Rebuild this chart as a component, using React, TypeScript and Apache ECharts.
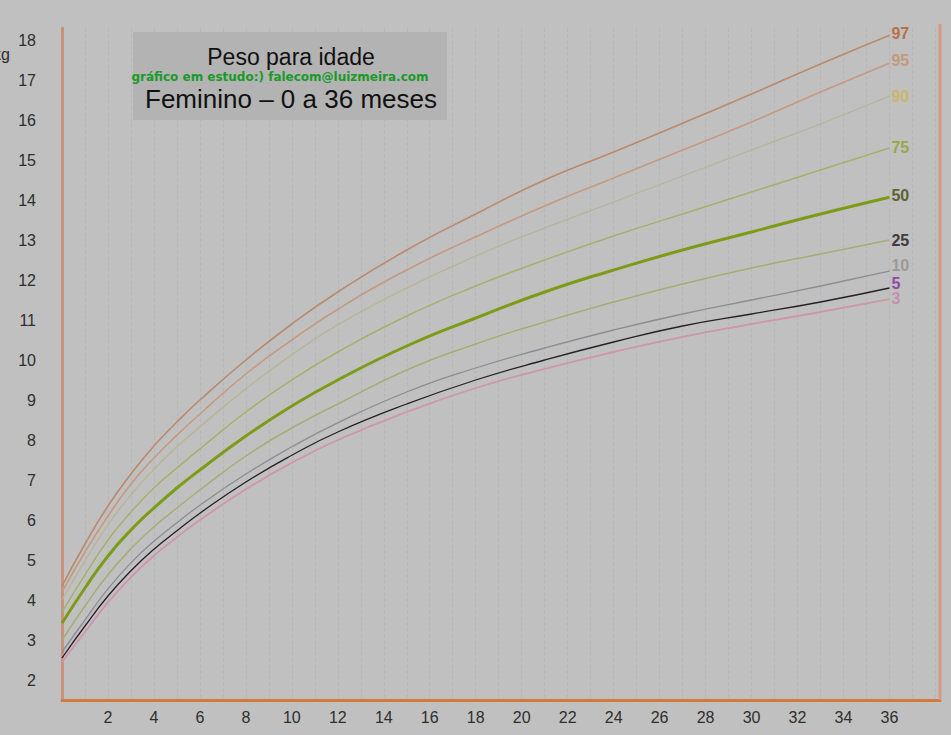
import React, { useEffect, useRef } from "react";
import * as echarts from "echarts";

const months = [0, 1, 2, 3, 4, 5, 6, 8, 10, 12, 15, 18, 21, 24, 27, 30, 33, 36];

const p97 = [4.35, 5.4, 6.35, 7.15, 7.85, 8.45, 9.0, 10.0, 10.9, 11.7, 12.75, 13.65, 14.5, 15.2, 15.92, 16.65, 17.4, 18.12];
const p95 = [4.2, 5.2, 6.1, 6.9, 7.55, 8.12, 8.65, 9.65, 10.5, 11.27, 12.25, 13.08, 13.85, 14.55, 15.25, 15.95, 16.7, 17.42];
const p90 = [4.0, 4.98, 5.88, 6.63, 7.27, 7.83, 8.33, 9.28, 10.13, 10.88, 11.8, 12.6, 13.3, 13.95, 14.6, 15.25, 15.9, 16.6];
const p75 = [3.7, 4.63, 5.5, 6.2, 6.8, 7.3, 7.78, 8.7, 9.5, 10.2, 11.1, 11.85, 12.5, 13.1, 13.65, 14.2, 14.75, 15.3];
const p50 = [3.42, 4.3, 5.1, 5.75, 6.3, 6.8, 7.25, 8.1, 8.85, 9.5, 10.35, 11.05, 11.7, 12.25, 12.75, 13.2, 13.65, 14.07];
const p25 = [3.0, 3.85, 4.63, 5.28, 5.83, 6.3, 6.75, 7.6, 8.3, 8.9, 9.75, 10.4, 10.95, 11.45, 11.9, 12.3, 12.65, 13.0];
const p10 = [2.7, 3.5, 4.28, 4.93, 5.47, 5.93, 6.37, 7.15, 7.83, 8.43, 9.2, 9.8, 10.3, 10.75, 11.15, 11.5, 11.85, 12.22];
const p5 = [2.55, 3.35, 4.1, 4.73, 5.27, 5.73, 6.17, 6.95, 7.62, 8.2, 8.9, 9.5, 10.0, 10.45, 10.85, 11.15, 11.45, 11.8];
const p3 = [2.45, 3.2, 3.94, 4.57, 5.11, 5.57, 6.0, 6.77, 7.43, 8.0, 8.7, 9.3, 9.78, 10.2, 10.58, 10.9, 11.2, 11.52];

const percentileNames = ["97", "95", "90", "75", "50", "25", "10", "5", "3"];
const percentileValues = [p97, p95, p90, p75, p50, p25, p10, p5, p3];

const titleLine1 = "Peso para idade";
const titleLine2 = "Feminino – 0 a 36 meses";
const watermark = "gráfico em estudo:) falecom@luizmeira.com";
const unitLabel = "kg";

const FONT = "Liberation Sans, Arial, sans-serif";

const styles: Record<string, { line: string; label: string; width: number; dy: number }> = {
  "97": { line: "#b98a6c", label: "#b8704c", width: 1.6, dy: -2 },
  "95": { line: "#c49a80", label: "#c49a7c", width: 1.6, dy: -3 },
  "90": { line: "#b8b494", label: "#cdb66a", width: 1.3, dy: 0 },
  "75": { line: "#a6b06a", label: "#9aa64c", width: 1.5, dy: -1 },
  "50": { line: "#7c9c18", label: "#5e6036", width: 3, dy: -2 },
  "25": { line: "#a4ae74", label: "#3c3c3c", width: 1.5, dy: 0 },
  "10": { line: "#8c8c94", label: "#9a9a9a", width: 1.3, dy: -6 },
  "5": { line: "#2a1e26", label: "#8a4aa8", width: 1.3, dy: -5 },
  "3": { line: "#cf95aa", label: "#c490a8", width: 1.8, dy: -1 },
};

export default function App() {
  const ref = useRef<HTMLDivElement>(null);
  useEffect(() => {
    if (!ref.current) return;
    const chart = echarts.init(ref.current, undefined, { renderer: "svg" });
    const series = percentileNames.map((name, i) => {
      const st = styles[name];
      return {
        name,
        type: "line",
        smooth: 0.5,
        showSymbol: false,
        silent: true,
        data: months.map((m, j) => [m, percentileValues[i][j]]),
        lineStyle: { color: st.line, width: st.width },
        z: name === "50" ? 5 : 3,
        endLabel: {
          show: true,
          formatter: name,
          color: st.label,
          fontFamily: FONT,
          fontSize: 16,
          fontWeight: "bold",
          distance: 2,
          offset: [0, st.dy],
        },
      };
    });
    chart.setOption({
      animation: false,
      backgroundColor: "#c0c0c0",
      grid: { left: 62, right: 11, top: 28, bottom: 35 },
      xAxis: {
        type: "value",
        min: 0,
        max: 38.2,
        interval: 1,
        axisLine: { show: true, lineStyle: { color: "#d4783c", width: 3 } },
        axisTick: { show: false },
        axisLabel: {
          color: "#2e2e2e",
          fontFamily: FONT,
          fontSize: 16,
          margin: 9,
          showMaxLabel: false,
          formatter: (v: number) => (v > 0 && v <= 36 && v % 2 === 0 ? String(v) : ""),
        },
        splitLine: { show: true, lineStyle: { color: "rgba(150,150,150,0.22)", width: 1, type: "dashed" } },
      },
      yAxis: {
        type: "value",
        min: 1.5,
        max: 18.3,
        interval: 0.5,
        axisLine: { show: true, lineStyle: { color: "#c9927a", width: 3 } },
        axisTick: { show: false },
        axisLabel: {
          color: "#2e2e2e",
          fontFamily: FONT,
          fontSize: 16,
          margin: 26,
          showMaxLabel: false,
          formatter: (v: number) => (Number.isInteger(v) && v >= 2 && v <= 18 ? String(v) : ""),
        },
        splitLine: { show: false },
      },
      graphic: [
        { type: "line", shape: { x1: 940, y1: 24, x2: 940, y2: 700 }, style: { stroke: "#d49a84", lineWidth: 3 }, z: 10 },
        { type: "rect", shape: { x: 133, y: 32, width: 314, height: 88 }, style: { fill: "#b3b3b3" }, z: 10 },
        { type: "text", x: 291, y: 57, style: { text: titleLine1, font: `23px ${FONT}`, fill: "#111", align: "center", verticalAlign: "middle" }, z: 11 },
        { type: "text", x: 291, y: 99, style: { text: titleLine2, font: `26px ${FONT}`, fill: "#111", align: "center", verticalAlign: "middle" }, z: 11 },
        { type: "text", x: 280, y: 77, style: { text: watermark, font: `bold 12px DejaVu Sans, sans-serif`, fill: "#1a9a2a", align: "center", verticalAlign: "middle" }, z: 12 },
        { type: "text", x: -7, y: 54, style: { text: unitLabel, font: `16px ${FONT}`, fill: "#2e2e2e", align: "left", verticalAlign: "middle" }, z: 11 },
      ],
      series,
    });
    return () => chart.dispose();
  }, []);
  return (
    <div
      ref={ref}
      style={{ position: "fixed", left: 0, top: 0, width: 951, height: 735, background: "#c0c0c0" }}
    />
  );
}
